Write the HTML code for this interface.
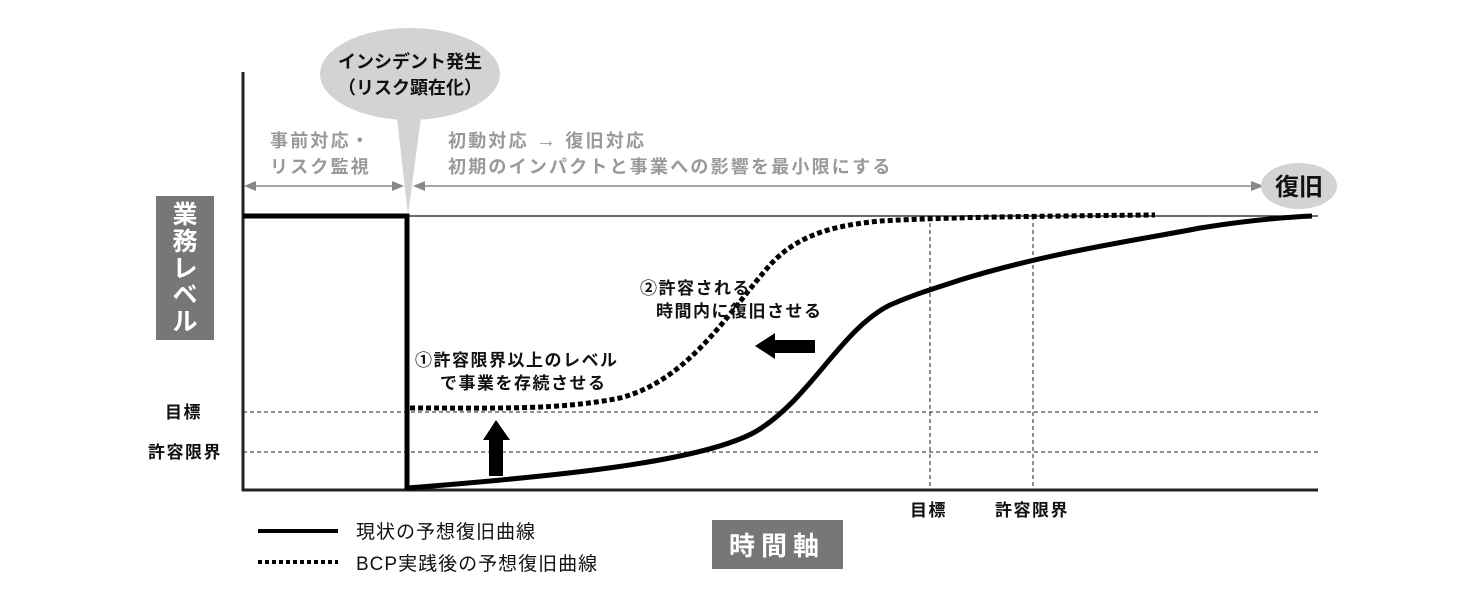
<!DOCTYPE html>
<html><head><meta charset="utf-8"><style>
html,body{margin:0;padding:0;background:#fff;}
svg text{font-family:"Liberation Sans","Noto Sans CJK JP",sans-serif;}
</style></head><body>
<svg width="1478" height="604" viewBox="0 0 1478 604" xmlns="http://www.w3.org/2000/svg">
<ellipse cx="410" cy="74" rx="90" ry="46" fill="#d3d3d3"/>
<polygon points="396,110 422,110 408,215" fill="#d3d3d3"/>
<text x="410" y="68" font-size="18" font-weight="bold" text-anchor="middle" fill="#111">インシデント発生</text>
<text x="410" y="94" font-size="18" font-weight="bold" text-anchor="middle" fill="#111">（リスク顕在化）</text>
<g fill="#999" font-size="18" font-weight="bold" letter-spacing="2.2">
<text x="270" y="147">事前対応・</text>
<text x="270" y="173">リスク監視</text>
<text x="448" y="147">初動対応 <tspan font-size="20">→</tspan> 復旧対応</text>
<text x="448" y="173">初期のインパクトと事業への影響を最小限にする</text>
</g>
<g stroke="#888" stroke-width="1.5">
<line x1="250" y1="186" x2="398" y2="186"/>
<line x1="420" y1="186" x2="1255" y2="186"/>
</g>
<g fill="#888">
<polygon points="244,186 256,181 256,191"/>
<polygon points="404,186 392,181 392,191"/>
<polygon points="413,186 425,181 425,191"/>
<polygon points="1264,186 1251,181 1251,191"/>
</g>
<ellipse cx="1299" cy="186" rx="38" ry="23" fill="#d3d3d3"/>
<text x="1299" y="195" font-size="24" font-weight="bold" text-anchor="middle" fill="#111">復旧</text>
<line x1="243" y1="72" x2="243" y2="491" stroke="#222" stroke-width="3"/>
<line x1="242" y1="490" x2="1318" y2="490" stroke="#222" stroke-width="3"/>
<g stroke="#222" stroke-width="1" stroke-dasharray="4,3">
<line x1="243" y1="412" x2="1318" y2="412"/>
<line x1="243" y1="452" x2="1318" y2="452"/>
<line x1="930" y1="216" x2="930" y2="490"/>
<line x1="1033" y1="216" x2="1033" y2="490"/>
</g>
<line x1="407" y1="216" x2="1318" y2="216" stroke="#111" stroke-width="1.2"/>
<polyline points="243,216 407,216 407,490" fill="none" stroke="#000" stroke-width="5"/>
<path d="M407,488 C560,476 700,462 755,432 C810,400 840,330 890,305 C915,294 930,290 960,280 C1050,252 1150,238 1200,228 C1250,220 1290,217 1312,216" fill="none" stroke="#000" stroke-width="5"/>
<path d="M410,408 C500,408 560,410 620,398 C690,380 730,310 770,265 C800,232 840,225 880,221 C950,217 1050,216 1155,215" fill="none" stroke="#000" stroke-width="5" stroke-dasharray="5,3"/>
<polygon points="483,440 496,420 510,440 503,440 503,476 489,476 489,440" fill="#000"/>
<polygon points="755,346 775,333 775,340 815,340 815,353 775,353 775,359" fill="#000"/>
<g font-size="17" font-weight="bold" fill="#111" letter-spacing="1.5">
<text x="640" y="294">②許容される</text>
<text x="656" y="317">時間内に復旧させる</text>
<text x="415" y="366">①許容限界以上のレベル</text>
<text x="440" y="389">で事業を存続させる</text>
<text x="165" y="418">目標</text>
<text x="148" y="458">許容限界</text>
<text x="910" y="516">目標</text>
<text x="995" y="516">許容限界</text>
</g>
<rect x="156" y="196" width="58" height="144" fill="#777"/>
<g font-size="25" font-weight="bold" fill="#fff" text-anchor="middle">
<text x="185" y="223">業</text><text x="185" y="250">務</text><text x="185" y="277">レ</text><text x="185" y="303">ベ</text><text x="185" y="330">ル</text>
</g>
<rect x="712" y="520" width="131" height="49" fill="#777"/>
<text x="777" y="555" font-size="26" font-weight="bold" fill="#fff" text-anchor="middle" letter-spacing="6">時間軸</text>
<line x1="258" y1="531" x2="338" y2="531" stroke="#000" stroke-width="4"/>
<line x1="258" y1="562" x2="338" y2="562" stroke="#000" stroke-width="4" stroke-dasharray="4,3"/>
<g font-size="19" fill="#111" letter-spacing="1">
<text x="356" y="538">現状の予想復旧曲線</text>
<text x="356" y="570">BCP実践後の予想復旧曲線</text>
</g>
</svg>
</body></html>
